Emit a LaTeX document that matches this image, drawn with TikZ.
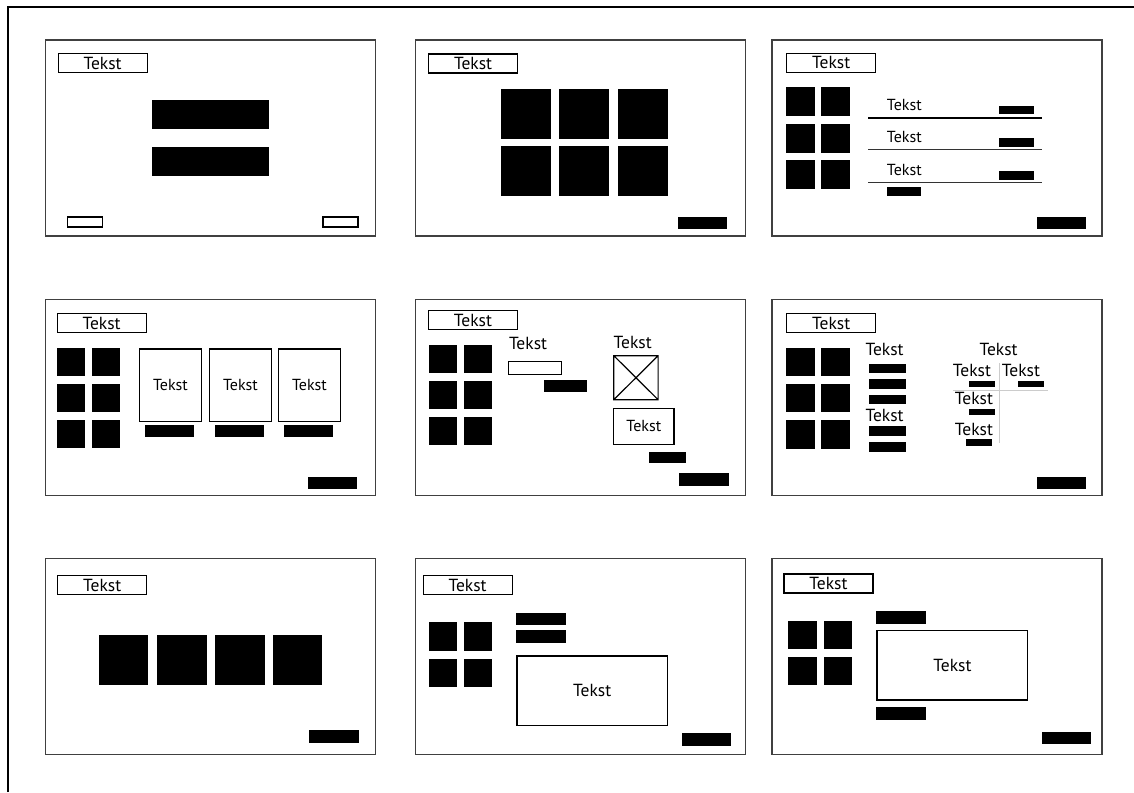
\documentclass[tikz,border=0pt]{standalone}
\usepackage{fontspec}
\setmainfont{PT Sans}
\begin{document}
\begin{tikzpicture}[x=1pt,y=-1pt,line join=miter,font=\fontsize{17.5}{19}\selectfont,
	panel/.style={draw=black!75,line width=1.3pt},
	titlebox/.style={draw,line width=1.3pt,anchor=north west,minimum width=89pt,minimum height=19pt,inner sep=0pt},
	textbox/.style={draw,line width=1.3pt,inner sep=0pt},
	lbl/.style={anchor=base west,inner sep=0pt},
	thinbox/.style={draw,line width=1.3pt}]
	\useasboundingbox (0,0) rectangle (1134,792);
	\draw[line width=2pt] (7.5,792)--(7.5,7.5)--(1134,7.5);
	% rij 1
	\begin{scope}[shift={(45.5,40)}]
		\draw[panel] (0,0) rectangle (330,196);
		\node[titlebox] (t1) at (12,13) {Tekst};
		\fill (106.5,60) rectangle ++(117,29);
		\fill (106.5,106.5) rectangle ++(117,29);
		\draw[thinbox] (22,177) rectangle ++(35,10);
		\draw[thinbox] (277.5,177) rectangle ++(35,10);
	\end{scope}
	\begin{scope}[shift={(415.5,40)}]
		\draw[panel] (0,0) rectangle (330,196);
		\node[titlebox] (t2) at (12.5,13.3) {Tekst};
		\foreach \i in {0,1,2} \foreach \j in {0,1}
			\fill (85.5+58.4*\i,49.3+56.7*\j) rectangle ++(50,49.7);
		\fill (262,176.7) rectangle ++(49.3,12.6);
	\end{scope}
	\begin{scope}[shift={(772,40)}]
		\draw[panel] (0,0) rectangle (330,196);
		\node[titlebox] (t3) at (14,12.7) {Tekst};
		\foreach \i in {0,1} \foreach \j in {0,1,2}
			\fill (14+35.3*\i,47.3+36.3*\j) rectangle ++(28.5,29);
		\draw[line width=1.4pt] (96.3,78)--(269.7,78);
		\draw[line width=1pt,black!80] (96.3,109.3)--(269.7,109.3);
		\draw[line width=1pt,black!80] (96.3,142.3)--(269.7,142.3);
		\node[lbl,font=\fontsize{16}{18}\selectfont] (r1) at (114.7,70) {Tekst};
		\node[lbl,font=\fontsize{16}{18}\selectfont] (r2) at (114.7,102.3) {Tekst};
		\node[lbl,font=\fontsize{16}{18}\selectfont] (r3) at (114.7,135.7) {Tekst};
		\foreach \y in {65.7,98.3,131.3}
			\fill (227.3,\y) rectangle ++(34.4,8.6);
		\fill (114.7,147.3) rectangle ++(34.3,9);
		\fill (265,176.7) rectangle ++(49.3,12.6);
	\end{scope}
	% rij 2
	\begin{scope}[shift={(45.5,299.3)}]
		\draw[panel] (0,0) rectangle (330,196);
		\node[titlebox] (t4) at (11,13.7) {Tekst};
		\foreach \i in {0,1} \foreach \j in {0,1,2}
			\fill (11+35.6*\i,48.4+36*\j) rectangle ++(28.3,28.4);
		\foreach \x/\n in {93.3/a,163.3/b,232.3/c}{
			\node[textbox,anchor=north west,minimum width=62pt,minimum height=72.4pt,font=\fontsize{16}{18}\selectfont] (k\n) at (\x,49) {Tekst};
			\fill (\x+6,125.4) rectangle ++(49,12.6);}
		\fill (262,177.4) rectangle ++(49.3,12.6);
	\end{scope}
	\begin{scope}[shift={(415.5,299.3)}]
		\draw[panel] (0,0) rectangle (330,196);
		\node[titlebox] (t5) at (12.3,10.7) {Tekst};
		\foreach \i in {0,1} \foreach \j in {0,1,2}
			\fill (13+35*\i,45.4+36.2*\j) rectangle ++(28.3,28);
		\node[lbl] (l5a) at (93.3,50) {Tekst};
		\draw[line width=1pt] (92.6,62) rectangle ++(53.4,13.4);
		\fill (128.3,81) rectangle ++(43.3,11.4);
		\node[lbl] (l5b) at (198,48.7) {Tekst};
		\draw[line width=1.2pt] (198.3,56.4) rectangle (242.6,100.4) (198.3,56.4)--(242.6,100.4) (198.3,100.4)--(242.6,56.4);
		\node[textbox,minimum width=60.6pt,minimum height=36pt,font=\fontsize{16}{18}\selectfont] (b5) at (228.3,127) {Tekst};
		\fill (233.6,153) rectangle ++(37,10.4);
		\fill (263.6,174) rectangle ++(49.4,13);
	\end{scope}
	\begin{scope}[shift={(772,299.3)}]
		\draw[panel] (0,0) rectangle (330,196);
		\node[titlebox] (t6) at (14,13.7) {Tekst};
		\foreach \i in {0,1} \foreach \j in {0,1,2}
			\fill (14+35.3*\i,48.4+36.2*\j) rectangle ++(28.5,28.5);
		\node[lbl] (l6a) at (93.3,56.4) {Tekst};
		\foreach \y in {64.4,80,95.7}
			\fill (96.7,\y) rectangle ++(37,9.2);
		\node[lbl] (l6b) at (93.3,121.7) {Tekst};
		\foreach \y in {127,142.7}
			\fill (96.7,\y) rectangle ++(37,9.5);
		\draw[black!20,line width=1pt] (227,64)--(227,144) (180.7,91.4)--(276.3,91.4);
		\node[lbl] (l6c) at (207.3,56.4) {Tekst};
		\node[lbl] (l6d) at (180.7,76.7) {Tekst};
		\node[lbl] (l6e) at (229.7,76.7) {Tekst};
		\node[lbl] (l6f) at (182.7,104.7) {Tekst};
		\node[lbl] (l6g) at (182.7,136.4) {Tekst};
		\fill (197,81.4) rectangle ++(26,6.3);
		\fill (245.7,81.4) rectangle ++(26.3,6.3);
		\fill (197,109.7) rectangle ++(26,6.3);
		\fill (194,139.7) rectangle ++(26.3,6.7);
		\fill (265,177.4) rectangle ++(49.3,12.6);
	\end{scope}
	% rij 3
	\begin{scope}[shift={(45.5,558.3)}]
		\draw[panel] (0,0) rectangle (330,196);
		\node[titlebox] (t7) at (11.6,16.7) {Tekst};
		\foreach \x in {53,111.3,169.6,227}
			\fill (\x,77) rectangle ++(49.7,50);
		\fill (263.3,171.7) rectangle ++(49.7,12.7);
	\end{scope}
	\begin{scope}[shift={(415.5,558.3)}]
		\draw[panel] (0,0) rectangle (330,196);
		\node[titlebox] (t8) at (7,16.7) {Tekst};
		\foreach \i in {0,1} \foreach \j in {0,1}
			\fill (13+35*\i,64+36.7*\j) rectangle ++(28.3,28.3);
		\fill (100.3,54.4) rectangle ++(49.7,12.6);
		\fill (100.3,72) rectangle ++(49.7,13);
		\node[textbox,minimum width=150.7pt,minimum height=69.3pt] (b8) at (176.7,132.3) {Tekst};
		\fill (266,175) rectangle ++(49.6,12.7);
	\end{scope}
	\begin{scope}[shift={(772,558.3)}]
		\draw[panel] (0,0) rectangle (330,196);
		\node[titlebox] (t9) at (11.3,15) {Tekst};
		\foreach \i in {0,1} \foreach \j in {0,1}
			\fill (16.3+35.7*\i,62.7+36*\j) rectangle ++(28.4,28.3);
		\fill (104.3,52.4) rectangle ++(49.4,13);
		\node[textbox,minimum width=150.7pt,minimum height=69.3pt] (b9) at (180.4,107) {Tekst};
		\fill (104.3,148.7) rectangle ++(49.4,13);
		\fill (270,173.4) rectangle ++(49,12.6);
	\end{scope}
\end{tikzpicture}
\end{document}
